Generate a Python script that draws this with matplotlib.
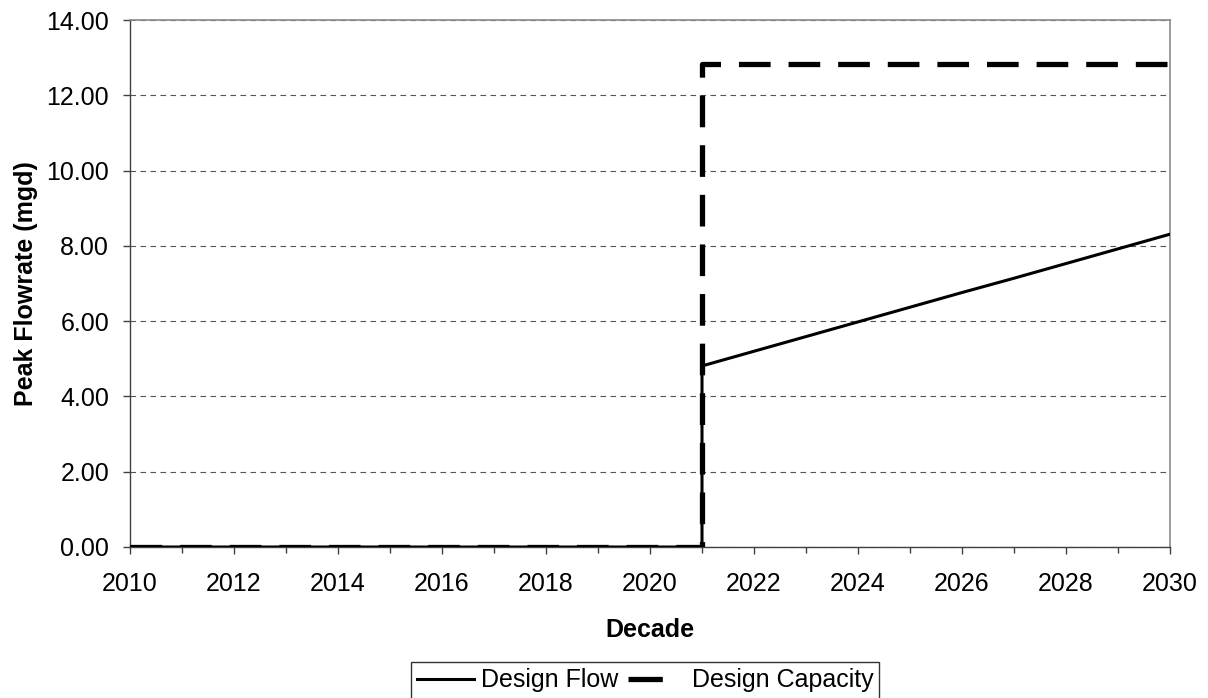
import matplotlib

matplotlib.use("Agg")
import matplotlib.pyplot as plt
from matplotlib.lines import Line2D
from matplotlib.ticker import FormatStrFormatter, MultipleLocator

plt.rcParams["font.family"] = ["Liberation Sans", "DejaVu Sans"]

# data
flow_years = [2010, 2011, 2012, 2013, 2014, 2015, 2016, 2017, 2018, 2019, 2020, 2021,
              2021, 2022, 2023, 2024, 2025, 2026, 2027, 2028, 2029, 2030]
flow_values = [0, 0, 0, 0, 0, 0, 0, 0, 0, 0, 0, 0,
               4.81, 5.20, 5.59, 5.98, 6.37, 6.76, 7.14, 7.53, 7.92, 8.31]
capacity_years = [2010, 2011, 2012, 2013, 2014, 2015, 2016, 2017, 2018, 2019, 2020, 2021,
                  2021, 2022, 2023, 2024, 2025, 2026, 2027, 2028, 2029, 2030]
capacity_values = [0, 0, 0, 0, 0, 0, 0, 0, 0, 0, 0, 0,
                   12.84, 12.84, 12.84, 12.84, 12.84, 12.84, 12.84, 12.84, 12.84, 12.84]

FS = 18

fig = plt.figure(figsize=(12.08, 6.98), dpi=100)
ax = fig.add_axes([130 / 1208, 1 - 547 / 698, 1040 / 1208, 527 / 698])

ax.plot(flow_years, flow_values, color="black", lw=2.2, zorder=3)
cap, = ax.plot(capacity_years, capacity_values, color="black", lw=3.8, zorder=4,
               solid_capstyle="butt", dash_capstyle="butt")
cap.set_dashes((6.0, 3.4))

ax.set_xlim(2010, 2030)
ax.set_ylim(0, 14)
ax.xaxis.set_major_locator(MultipleLocator(2))
ax.xaxis.set_minor_locator(MultipleLocator(1))
ax.yaxis.set_major_locator(MultipleLocator(2))
ax.yaxis.set_major_formatter(FormatStrFormatter("%.2f"))
ax.tick_params(axis="both", which="both", direction="out", labelsize=FS, color="#404040")
ax.tick_params(axis="both", which="major", length=5, width=1)
ax.tick_params(axis="x", which="minor", length=4, width=1)
ax.tick_params(axis="x", pad=13)
ax.tick_params(axis="y", pad=10)

for side in ("top", "right"):
    ax.spines[side].set_color("#8a8a8a")
    ax.spines[side].set_linewidth(1.2)
for side in ("left", "bottom"):
    ax.spines[side].set_color("#404040")
    ax.spines[side].set_linewidth(1)

ax.yaxis.grid(True, color="#555555", linestyle=(0, (5, 4)), linewidth=0.8)
ax.set_axisbelow(True)

ax.set_xlabel("Decade", fontsize=FS, fontweight="bold", labelpad=16)
ax.set_ylabel("Peak Flowrate (mgd)", fontsize=FS, fontweight="bold", labelpad=6)

handles = [
    Line2D([], [], color="black", lw=2.2),
    Line2D([], [], color="black", lw=3.8, dashes=(6.5, 8.0), dash_capstyle="butt"),
]
leg = fig.legend(handles, ["Design Flow", "Design Capacity"], loc="upper center",
                 bbox_to_anchor=(645 / 1208, 1 - 662 / 698), ncol=2,
                 fontsize=FS, frameon=True, fancybox=False, edgecolor="black",
                 handlelength=2.3, handletextpad=0.25, columnspacing=0.4,
                 borderpad=0.25, borderaxespad=0)
leg.get_frame().set_linewidth(1)

fig.savefig("out.png", dpi=100)
